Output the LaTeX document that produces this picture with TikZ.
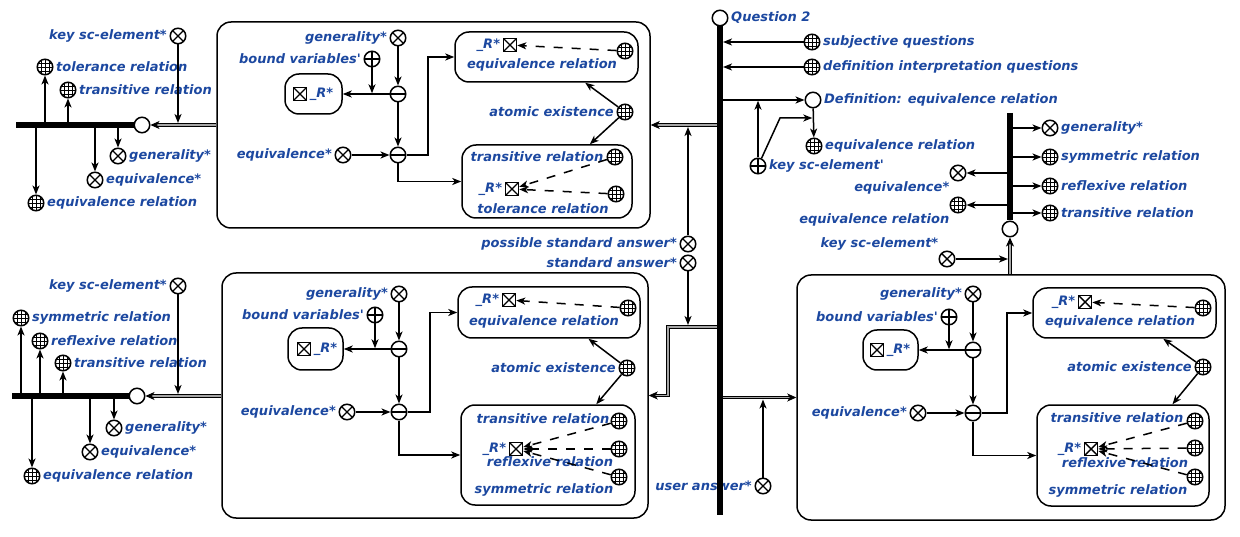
\documentclass[tikz,border=0pt]{standalone}
\usepackage{fontspec}
\setmainfont{DejaVu Sans}
\usetikzlibrary{arrows.meta,calc}
\definecolor{sctext}{RGB}{28,72,160}
\tikzstyle{el}=[circle,draw,fill=white,line width=1.5pt,minimum size=15.5pt,inner sep=0pt]
\tikzstyle{gen}=[el]
\tikzstyle{nrel}=[el,path picture={\draw[line width=1.4pt] (path picture bounding box.north west) -- (path picture bounding box.south east) (path picture bounding box.north east) -- (path picture bounding box.south west);}]
\tikzstyle{role}=[el,path picture={\draw[line width=1.4pt] (path picture bounding box.north) -- (path picture bounding box.south) (path picture bounding box.west) -- (path picture bounding box.east);}]
\tikzstyle{tuple}=[el,path picture={\draw[line width=1.4pt] (path picture bounding box.west) -- (path picture bounding box.east);}]
\tikzstyle{class}=[el,path picture={\foreach \d in {-4,0,4}{\draw[line width=0.75pt] ([xshift=\d pt]path picture bounding box.north) -- ([xshift=\d pt]path picture bounding box.south) ([yshift=\d pt]path picture bounding box.west) -- ([yshift=\d pt]path picture bounding box.east);}}]
\tikzstyle{var}=[rectangle,draw,fill=white,line width=1.5pt,minimum size=13pt,inner sep=0pt,path picture={\draw[line width=1.4pt] (path picture bounding box.north west) -- (path picture bounding box.south east) (path picture bounding box.north east) -- (path picture bounding box.south west);}]
\tikzstyle{contour}=[rectangle,draw,line width=1.5pt,rounded corners=14pt,inner sep=0pt]
\tikzstyle{txt}=[text=sctext,font=\fontsize{13}{15}\selectfont\bfseries\itshape,inner sep=2.5pt]
\tikzstyle{every label}=[txt]
\tikzstyle{arc}=[line width=1.5pt,-{Stealth[length=9pt,width=7pt,inset=2.5pt]}]
\tikzstyle{darc}=[arc,dash pattern=on 9pt off 9pt]
\tikzstyle{common}=[line width=0.8pt,double=black!35,double distance=1.8pt,-{Stealth[length=9pt,width=8pt,inset=2.5pt]}]
\tikzstyle{bus}=[line width=5.5pt]

\begin{document}
\begin{tikzpicture}[x=1pt,y=-1pt]
  \useasboundingbox (0,0) rectangle (1240,537);

  %% Contour of the question
  \draw (433.5,125) node[contour,minimum width=433pt,minimum height=206pt] (TC) {};
  \draw (398,38) node[nrel,label=left:generality*] (Tgen) {};
  \draw (372,59) node[role,label=left:bound variables\textquotesingle] (Tbv) {};
  \draw (398,94) node[tuple] (Tt1) {};
  \draw (398,155) node[tuple] (Tt2) {};
  \draw (343,155) node[nrel,label=left:equivalence*] (Teqv) {};
  \draw (313.5,94) node[contour,minimum width=57pt,minimum height=40pt] (TV) {};
  \draw (300,94) node[var,label=right:\_R*] (TVv) {};
  \draw (546.5,57) node[contour,minimum width=183pt,minimum height=50pt] (TA) {};
  \draw (510,45) node[var,label=left:\_R*] (TAv) {};
  \draw (625,51) node[class] (TAc) {};
  \draw (542,65) node[txt] (TAt) {equivalence relation};
  \draw (625,112) node[class,label=left:atomic existence] (Tex) {};
  \draw (547,181.5) node[contour,minimum width=170pt,minimum height=73pt] (TB) {};
  \draw (537,157) node[txt] (TBt1) {transitive relation};
  \draw (615,157) node[class] (TBc1) {};
  \draw (512,189) node[var,label=left:\_R*] (TBv) {};
  \draw (616,194) node[class] (TBc2) {};
  \draw (543,209) node[txt] (TBt2) {tolerance relation};

  \draw[arc] (Tgen) -- (Tt1);
  \draw[arc] (Tt1) -- (Tt2);
  \draw[arc] (Tt1) -- (TV.east);
  \draw[arc,shorten >=0.7pt] (Tbv) -- (Tbv |- Tt1);
  \draw[arc] (Teqv) -- (Tt2);
  \draw[arc] (Tt2) -- ++(30,0) |- (TA.west);
  \draw[arc] (Tt2) |- (TB.west);
  \draw[darc] (TAc) -- (TAv);
  \draw[arc] (Tex) -- ($(TA.south)!0.42!(TA.south east)$);
  \draw[arc] (Tex) -- ($(TB.north)!0.5!(TB.north east)$);
  \draw[darc] (TBc1) -- (TBv);
  \draw[darc] (TBc2) -- (TBv);

  %% Contour of the standard answer
  \draw (435,395.5) node[contour,minimum width=426pt,minimum height=245pt] (MC) {};
  \draw (399,294) node[nrel,label=left:generality*] (Mgen) {};
  \draw (375,315) node[role,label=left:bound variables\textquotesingle] (Mbv) {};
  \draw (399,349) node[tuple] (Mt1) {};
  \draw (399,412) node[tuple] (Mt2) {};
  \draw (347,412) node[nrel,label=left:equivalence*] (Meqv) {};
  \draw (315.5,349) node[contour,minimum width=55pt,minimum height=42pt] (MV) {};
  \draw (304,349) node[var,label=right:\_R*] (MVv) {};
  \draw (549,312.5) node[contour,minimum width=182pt,minimum height=51pt] (MA) {};
  \draw (509,300) node[var,label=left:\_R*] (MAv) {};
  \draw (628,308) node[class] (MAc) {};
  \draw (544,322) node[txt] (MAt) {equivalence relation};
  \draw (627,368) node[class,label=left:atomic existence] (Mex) {};
  \draw (548,455) node[contour,minimum width=174pt,minimum height=100pt] (MB) {};
  \draw (543,419) node[txt] (MBt1) {transitive relation};
  \draw (619,421) node[class] (MBc1) {};
  \draw (516,449) node[var,label=left:\_R*] (MBv) {};
  \draw (619,449) node[class] (MBc2) {};
  \draw (550,462) node[txt] (MBt2) {reflexive relation};
  \draw (619,477) node[class] (MBc3) {};
  \draw (544,490) node[txt] (MBt3) {symmetric relation};

  \draw[arc] (Mgen) -- (Mt1);
  \draw[arc] (Mt1) -- (Mt2);
  \draw[arc] (Mt1) -- (MV.east);
  \draw[arc,shorten >=0.7pt] (Mbv) -- (Mbv |- Mt1);
  \draw[arc] (Meqv) -- (Mt2);
  \draw[arc] (Mt2) -- ++(31,0) |- (MA.west);
  \draw[arc] (Mt2) |- (MB.west);
  \draw[darc] (MAc) -- (MAv);
  \draw[arc] (Mex) -- ($(MA.south)!0.43!(MA.south east)$);
  \draw[arc] (Mex) -- ($(MB.north)!0.55!(MB.north east)$);
  \draw[darc] (MBc1) -- (MBv);
  \draw[darc] (MBc2) -- (MBv);
  \draw[darc] (MBc3) -- (MBv);

  %% Contour of the user answer
  \draw (1011,397.5) node[contour,minimum width=428pt,minimum height=245pt] (UC) {};
  \draw (973,294) node[nrel,label=left:generality*] (Ugen) {};
  \draw (949,317) node[role,label=left:bound variables\textquotesingle] (Ubv) {};
  \draw (973,350) node[tuple] (Ut1) {};
  \draw (973,413) node[tuple] (Ut2) {};
  \draw (918,413) node[nrel,label=left:equivalence*] (Ueqv) {};
  \draw (890.5,350) node[contour,minimum width=55pt,minimum height=40pt] (UV) {};
  \draw (877,350) node[var,label=right:\_R*] (UVv) {};
  \draw (1124.5,313) node[contour,minimum width=183pt,minimum height=50pt] (UA) {};
  \draw (1085,302) node[var,label=left:\_R*] (UAv) {};
  \draw (1203,308) node[class] (UAc) {};
  \draw (1120,322) node[txt] (UAt) {equivalence relation};
  \draw (1203,367) node[class,label=left:atomic existence] (Uex) {};
  \draw (1123,455.5) node[contour,minimum width=172pt,minimum height=101pt] (UB) {};
  \draw (1117,418) node[txt] (UBt1) {transitive relation};
  \draw (1195,421) node[class] (UBc1) {};
  \draw (1091,449) node[var,label=left:\_R*] (UBv) {};
  \draw (1195,448) node[class] (UBc2) {};
  \draw (1125,463) node[txt] (UBt2) {reflexive relation};
  \draw (1195,477) node[class] (UBc3) {};
  \draw (1118,491) node[txt] (UBt3) {symmetric relation};

  \draw[arc] (Ugen) -- (Ut1);
  \draw[arc] (Ut1) -- (Ut2);
  \draw[arc] (Ut1) -- (UV.east);
  \draw[arc,shorten >=0.7pt] (Ubv) -- (Ubv |- Ut1);
  \draw[arc] (Ueqv) -- (Ut2);
  \draw[arc] (Ut2) -- ++(34,0) |- (UA.west);
  \draw[arc] (Ut2) |- (UB.west);
  \draw[darc] (UAc) -- (UAv);
  \draw[arc] (Uex) -- ($(UA.south)!0.42!(UA.south east)$);
  \draw[arc] (Uex) -- ($(UB.north)!0.57!(UB.north east)$);
  \draw[darc] (UBc1) -- (UBv);
  \draw[darc] (UBc2) -- (UBv);
  \draw[darc] (UBc3) -- (UBv);

  %% Left relations of the question
  \draw (178,36) node[nrel,label=left:key sc-element*] (Lkey) {};
  \draw (45,67) node[class,label=right:tolerance relation] (Ltol) {};
  \draw (68,90) node[class,label=right:transitive relation] (Ltra) {};
  \draw (142,125) node[gen] (LS) {};
  \coordinate (LB) at (16,125);
  \draw (118,156) node[nrel,label=right:generality*] (Lgen) {};
  \draw (95,180) node[nrel,label=right:equivalence*] (Leqv) {};
  \draw (36,203) node[class,label=right:equivalence relation] (Leqr) {};
  \draw[arc] (Ltol |- LB) -- (Ltol);
  \draw[arc] (Ltra |- LB) -- (Ltra);
  \draw[arc] (Lgen |- LB) -- (Lgen);
  \draw[arc] (Leqv |- LB) -- (Leqv);
  \draw[arc] (Leqr |- LB) -- (Leqr);
  \draw[common] (TC.west) -- (LS);
  \draw[arc,shorten >=2pt] (Lkey) -- (Lkey |- LS);
  \draw[bus] (LB) -- (LS);

  %% Left relations of the standard answer
  \draw (178,286) node[nrel,label=left:key sc-element*] (Bkey) {};
  \draw (21,318) node[class,label=right:symmetric relation] (Bsym) {};
  \draw (40,341) node[class,label=right:reflexive relation] (Bref) {};
  \draw (63,363) node[class,label=right:transitive relation] (Btra) {};
  \draw (137,396) node[gen] (BS) {};
  \coordinate (BB) at (12,396);
  \draw (114,428) node[nrel,label=right:generality*] (Bgen) {};
  \draw (90,452) node[nrel,label=right:equivalence*] (Beqv) {};
  \draw (32,476) node[class,label=right:equivalence relation] (Beqr) {};
  \draw[arc] (Bsym |- BB) -- (Bsym);
  \draw[arc] (Bref |- BB) -- (Bref);
  \draw[arc] (Btra |- BB) -- (Btra);
  \draw[arc] (Bgen |- BB) -- (Bgen);
  \draw[arc] (Beqv |- BB) -- (Beqv);
  \draw[arc] (Beqr |- BB) -- (Beqr);
  \draw[common] (MC.west |- BS) -- (BS);
  \draw[arc,shorten >=2pt] (Bkey) -- (Bkey |- BS);
  \draw[bus] (BB) -- (BS);

  %% Question 2
  \draw (720,18) node[gen,label=right:Question 2] (Q2) {};
  \coordinate (QE) at (720,515);
  \draw (812,42) node[class,label=right:subjective questions] (Qsub) {};
  \draw (812,67) node[class,label=right:definition interpretation questions] (Qdef) {};
  \draw (813,100) node[gen,label={right:Definition: equivalence relation}] (Def) {};
  \draw (814,146) node[class,label=right:equivalence relation] (Deqr) {};
  \draw (758,166) node[role,label=right:key sc-element\textquotesingle] (Kp) {};
  \draw[arc,shorten >=3pt] (Qsub) -- (Qsub -| Q2);
  \draw[arc,shorten >=3pt] (Qdef) -- (Qdef -| Q2);
  \draw[arc] (Def -| Q2) -- (Def);
  \draw[arc] (Def) -- (Deqr);
  \draw[arc,shorten >=0.7pt] (Kp) -- (Kp |- Def);
  \draw[arc,shorten >=0.7pt] (Kp) -- (780,118) -- (Def |- 780,118);

  \draw (688,244) node[nrel,label=left:possible standard answer*] (PSA) {};
  \draw (688,263) node[nrel,label=left:standard answer*] (SA) {};
  \draw (763,486) node[nrel,label=left:user answer*] (Uans) {};
  \coordinate (J1) at (720,327);
  \coordinate (J2) at (668,327);
  \draw[common] (TC.east -| Q2) -- (TC.east);
  \draw[arc,shorten >=2pt] (PSA) -- (PSA |- TC.east);
  \draw[common] (J1) -- (J2) |- (MC.east);
  \draw[arc,shorten >=2pt] (SA) -- (SA |- J2);
  \draw[common] (UC.west -| Q2) -- (UC.west);
  \draw[arc,shorten >=2pt] (Uans) -- (Uans |- UC.west);
  \draw[bus] (Q2) -- (QE);

  %% Definition relations
  \coordinate (RB) at (1010,113);
  \draw (1010,229) node[gen] (RS) {};
  \draw (1050,128) node[nrel,label=right:generality*] (Rgen) {};
  \draw (1050,157) node[class,label=right:symmetric relation] (Rsym) {};
  \draw (1050,186) node[class,label=right:reflexive relation] (Rref) {};
  \draw (1050,213) node[class,label=right:transitive relation] (Rtra) {};
  \draw (958,173) node[nrel,label=below left:equivalence*] (Reqv) {};
  \draw (958,205) node[class,label=below left:equivalence relation] (Reqr) {};
  \draw (947,259) node[nrel,label=above left:key sc-element*] (Rkey) {};
  \draw[arc] (Rgen -| RB) -- (Rgen);
  \draw[arc] (Rsym -| RB) -- (Rsym);
  \draw[arc] (Rref -| RB) -- (Rref);
  \draw[arc] (Rtra -| RB) -- (Rtra);
  \draw[arc] (Reqv -| RB) -- (Reqv);
  \draw[arc] (Reqr -| RB) -- (Reqr);
  \draw[common] (RS |- UC.north) -- (RS);
  \draw[arc,shorten >=2pt] (Rkey) -- (Rkey -| RS);
  \draw[bus] (RB) -- (RS);
\end{tikzpicture}
\end{document}
